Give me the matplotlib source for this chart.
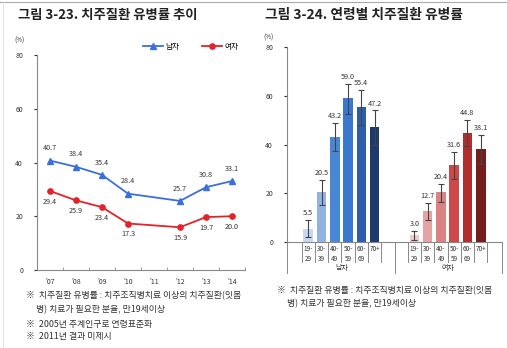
import matplotlib.pyplot as plt
from matplotlib.lines import Line2D
import matplotlib.transforms as mtransforms

plt.rcParams['font.family'] = ['Noto Sans CJK KR', 'DejaVu Sans']

# left chart: trend by year
years = ["'07", "'08", "'09", "'10", "'11", "'12", "'13", "'14"]
year_idx = [0, 1, 2, 3, 5, 6, 7]          # '11 not reported
male_trend = [40.7, 38.4, 35.4, 28.4, 25.7, 30.8, 33.1]
female_trend = [29.4, 25.9, 23.4, 17.3, 15.9, 19.7, 20.0]

# right chart: by age group
ages = ['19-\n29', '30-\n39', '40-\n49', '50-\n59', '60-\n69', '70+']
groups = ['남자', '여자']
male_age = [5.5, 20.5, 43.2, 59.0, 55.4, 47.2]
male_lo = [2.0, 15.0, 37.5, 52.5, 48.0, 40.0]
male_hi = [9.0, 25.5, 49.0, 65.0, 62.5, 54.0]
female_age = [3.0, 12.7, 20.4, 31.6, 44.8, 38.1]
female_lo = [1.0, 9.0, 16.5, 26.0, 39.5, 32.0]
female_hi = [4.5, 16.0, 24.0, 37.0, 50.0, 44.0]

male_colors = ['#c9d8ee', '#93b3df', '#4a86d6', '#3a78cf', '#2e5ea9', '#1d3b6c']
female_colors = ['#f0cccc', '#e6a3a3', '#da8383', '#cd4848', '#b02e2e', '#761d1d']

blue = '#3b6fde'
red = '#e3222a'
txt = '#333333'

fig = plt.figure(figsize=(5.07, 3.48), dpi=100)

# frame lines at top and left
fig.add_artist(Line2D([0, 1], [0.993, 0.993], color='#aaaaaa', lw=0.8, transform=fig.transFigure))
fig.add_artist(Line2D([0.006, 0.006], [0, 0.993], color='#dddddd', lw=0.6, transform=fig.transFigure))

fig.text(18 / 507, 1 - 15 / 348, '그림 3-23. 치주질환 유병률 추이', fontsize=9.6, fontweight='bold',
         va='center', ha='left', color='#222222')
fig.text(265 / 507, 1 - 15 / 348, '그림 3-24. 연령별 치주질환 유병률', fontsize=9.9, fontweight='bold',
         va='center', ha='left', color='#222222')

# ---------------- left: line chart
ax1 = fig.add_axes([37 / 507, 1 - 270 / 348, 208 / 507, 215 / 348])
ax1.plot(year_idx, male_trend, color=blue, lw=1.3, marker='^', ms=4, label='남자')
ax1.plot(year_idx, female_trend, color=red, lw=1.3, marker='o', ms=3.8, label='여자')
for x, v in zip(year_idx, male_trend):
    ax1.annotate(f'{v:.1f}', (x, v), xytext=(0, 6), textcoords='offset points',
                 ha='center', va='bottom', fontsize=5.2, color=txt)
for x, v in zip(year_idx, female_trend):
    ax1.annotate(f'{v:.1f}', (x, v), xytext=(0, -5), textcoords='offset points',
                 ha='center', va='top', fontsize=5.2, color=txt)
ax1.set_xlim(-0.46, 7.46)
ax1.set_ylim(0, 80)
ax1.set_yticks([0, 20, 40, 60, 80])
ax1.set_xticks(range(len(years)))
ax1.set_xticklabels(years)
ax1.set_xticks([i + 0.5 for i in range(-1, 8)], minor=True)
ax1.tick_params(axis='x', which='major', length=0, labelsize=5, colors=txt, pad=6)
ax1.tick_params(axis='x', which='minor', length=2, direction='in', color='#888888')
ax1.tick_params(axis='y', length=2, labelsize=5, colors=txt, pad=8)
for s in ['top', 'right']:
    ax1.spines[s].set_visible(False)
for s in ['left', 'bottom']:
    ax1.spines[s].set_color('#888888')
    ax1.spines[s].set_linewidth(0.8)
ax1.text(-0.085, 1.06, '(%)', transform=ax1.transAxes, fontsize=4.5, color=txt, ha='center')
ax1.legend(loc='upper right', bbox_to_anchor=(1.0, 1.09), ncol=2, frameon=False,
           fontsize=5.5, handlelength=2.6, columnspacing=3.0, handletextpad=0.3)

# ---------------- right: grouped bar chart
ax2 = fig.add_axes([287 / 507, 1 - 242 / 348, 215 / 507, 195 / 348])
male_x = list(range(6))
female_x = [i + 8 for i in range(6)]
ax2.bar(male_x, male_age, width=0.72, color=male_colors,
        yerr=[[m - l for m, l in zip(male_age, male_lo)], [h - m for m, h in zip(male_age, male_hi)]],
        error_kw=dict(ecolor='#444444', elinewidth=0.8, capsize=2, capthick=0.8))
ax2.bar(female_x, female_age, width=0.72, color=female_colors,
        yerr=[[m - l for m, l in zip(female_age, female_lo)], [h - m for m, h in zip(female_age, female_hi)]],
        error_kw=dict(ecolor='#444444', elinewidth=0.8, capsize=2, capthick=0.8))
for xs, vals, his in [(male_x, male_age, male_hi), (female_x, female_age, female_hi)]:
    for x, v, h in zip(xs, vals, his):
        ax2.annotate(f'{v:.1f}', (x, h), xytext=(0, 2), textcoords='offset points',
                     ha='center', va='bottom', fontsize=5.2, color=txt)
xmin, xmax = -1.6, 14.6
ax2.set_xlim(xmin, xmax)
ax2.set_ylim(0, 80)
ax2.set_yticks([0, 20, 40, 60, 80])
ax2.set_xticks([])
ax2.tick_params(axis='y', length=2, labelsize=5, colors=txt, pad=8)
for s in ['top', 'right']:
    ax2.spines[s].set_visible(False)
for s in ['left', 'bottom']:
    ax2.spines[s].set_color('#888888')
    ax2.spines[s].set_linewidth(0.8)
ax2.text(-0.085, 1.04, '(%)', transform=ax2.transAxes, fontsize=4.5, color=txt, ha='center')

# category boxes below the axis
trans = mtransforms.blended_transform_factory(ax2.transData, ax2.transAxes)
px = 1 / 195  # one pixel in axes fraction (vertical)
for xs, name in [(male_x, groups[0]), (female_x, groups[1])]:
    for i, x in enumerate(xs):
        ax2.text(x, -3 * px, ages[i], transform=trans, ha='center', va='top',
                 fontsize=4.6, color=txt, linespacing=1.3)
    for b in [xs[0] - 0.5] + [x + 0.5 for x in xs]:
        ax2.plot([b, b], [0, -20 * px], transform=trans, color='#888888', lw=0.7, clip_on=False)
    ax2.text((xs[0] + xs[-1]) / 2, -26 * px, name, transform=trans, ha='center', va='center',
             fontsize=5, color=txt)
for b in [xmin, 6.5, xmax]:
    ax2.plot([b, b], [0, -31 * px], transform=trans, color='#888888', lw=0.7, clip_on=False)

# notes
note1 = '※  치주질환 유병률 : 치주조직병치료 이상의 치주질환(잇몸'
note2 = '     병) 치료가 필요한 분율, 만19세이상'
fs = 6.4
fig.text(26 / 507, 1 - 296 / 348, note1, fontsize=fs, color=txt, va='center')
fig.text(26 / 507, 1 - 310 / 348, note2, fontsize=fs, color=txt, va='center')
fig.text(26 / 507, 1 - 324 / 348, '※  2005년 추계인구로 연령표준화', fontsize=fs, color=txt, va='center')
fig.text(26 / 507, 1 - 337 / 348, '※  2011년 결과 미제시', fontsize=fs, color=txt, va='center')
fig.text(277 / 507, 1 - 291 / 348, note1, fontsize=fs, color=txt, va='center')
fig.text(277 / 507, 1 - 304 / 348, note2, fontsize=fs, color=txt, va='center')

fig.savefig('out.png', dpi=100)
